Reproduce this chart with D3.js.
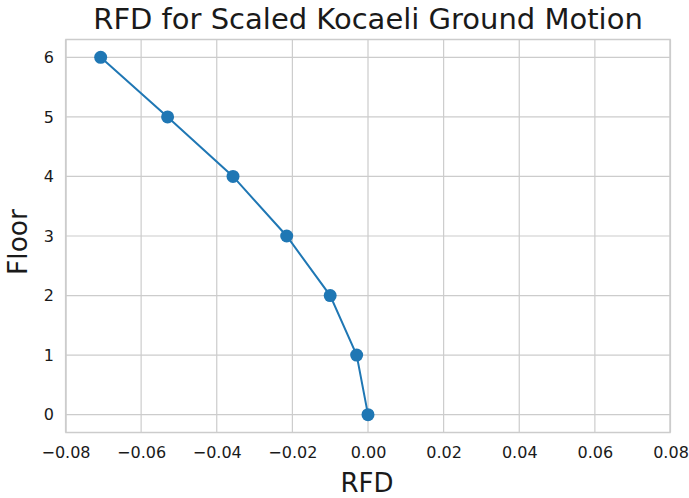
<!DOCTYPE html>
<html><head><meta charset="utf-8">
<script src="https://cdn.jsdelivr.net/npm/d3@7"></script>
<style>body{margin:0;background:#fff}svg{display:block}text{font-family:"DejaVu Sans",sans-serif;fill:#1a1a1a}</style>
</head><body><svg id="c" width="689" height="498"></svg>
<script>
const floors = [0, 1, 2, 3, 4, 5, 6];
const rfd = [0.0000, -0.0030, -0.0100, -0.0215, -0.0357, -0.0530, -0.0707];
const xTicks = [-0.08, -0.06, -0.04, -0.02, 0.00, 0.02, 0.04, 0.06, 0.08];
const yTicks = [0, 1, 2, 3, 4, 5, 6];
const title = "RFD for Scaled Kocaeli Ground Motion";
const xLabel = "RFD";
const yLabel = "Floor";

const svg = d3.select("#c");
const m = {l: 66, r: 670, t: 39.5, b: 432.5};
const x = d3.scaleLinear().domain([-0.08, 0.08]).range([65.5, 670.5]);
const y = d3.scaleLinear().domain([-0.3, 6.3]).range([m.b, m.t]);

const grid = svg.append("g").attr("stroke", "#cccccc").attr("stroke-width", 1.2);
xTicks.forEach(t => grid.append("line").attr("x1", x(t)).attr("x2", x(t)).attr("y1", m.t).attr("y2", m.b));
yTicks.forEach(t => grid.append("line").attr("x1", m.l).attr("x2", m.r).attr("y1", y(t)).attr("y2", y(t)));
svg.append("rect").attr("x", m.l).attr("y", m.t).attr("width", m.r - m.l).attr("height", m.b - m.t)
  .attr("fill", "none").attr("stroke", "#cccccc").attr("stroke-width", 1.5);

const fmt = v => (v < 0 ? "\u2212" : "") + Math.abs(v).toFixed(2);
const xAxis = d3.axisBottom(x).tickValues(xTicks).tickFormat(fmt).tickSize(0).tickPadding(14.5);
const gx = svg.append("g").attr("transform", `translate(0,${m.b})`).call(xAxis);
gx.select(".domain").remove();
gx.selectAll("text").attr("font-size", 16).attr("font-family", "DejaVu Sans").attr("fill", "#1a1a1a");

const yAxis = d3.axisLeft(y).tickValues(yTicks).tickFormat(d3.format("d")).tickSize(0).tickPadding(12);
const gy = svg.append("g").attr("transform", `translate(${m.l},0)`).call(yAxis);
gy.select(".domain").remove();
gy.selectAll("text").attr("font-size", 16).attr("font-family", "DejaVu Sans").attr("fill", "#1a1a1a");

const pts = floors.map((f, i) => [rfd[i], f]);
svg.append("path").datum(pts)
  .attr("d", d3.line().x(d => x(d[0])).y(d => y(d[1])))
  .attr("fill", "none").attr("stroke", "#1f77b4").attr("stroke-width", 2);
svg.selectAll("circle.pt").data(pts).join("circle").attr("class", "pt")
  .attr("cx", d => x(d[0])).attr("cy", d => y(d[1])).attr("r", 6.5).attr("fill", "#1f77b4");

svg.append("text").attr("x", (m.l + m.r) / 2).attr("y", 29).attr("text-anchor", "middle")
  .attr("font-size", 29).text(title);
svg.append("text").attr("x", 367).attr("y", 492).attr("text-anchor", "middle")
  .attr("font-size", 26).text(xLabel);
svg.append("text").attr("transform", `translate(26.5,242) rotate(-90)`).attr("text-anchor", "middle")
  .attr("font-size", 26.5).text(yLabel);
</script></body></html>
